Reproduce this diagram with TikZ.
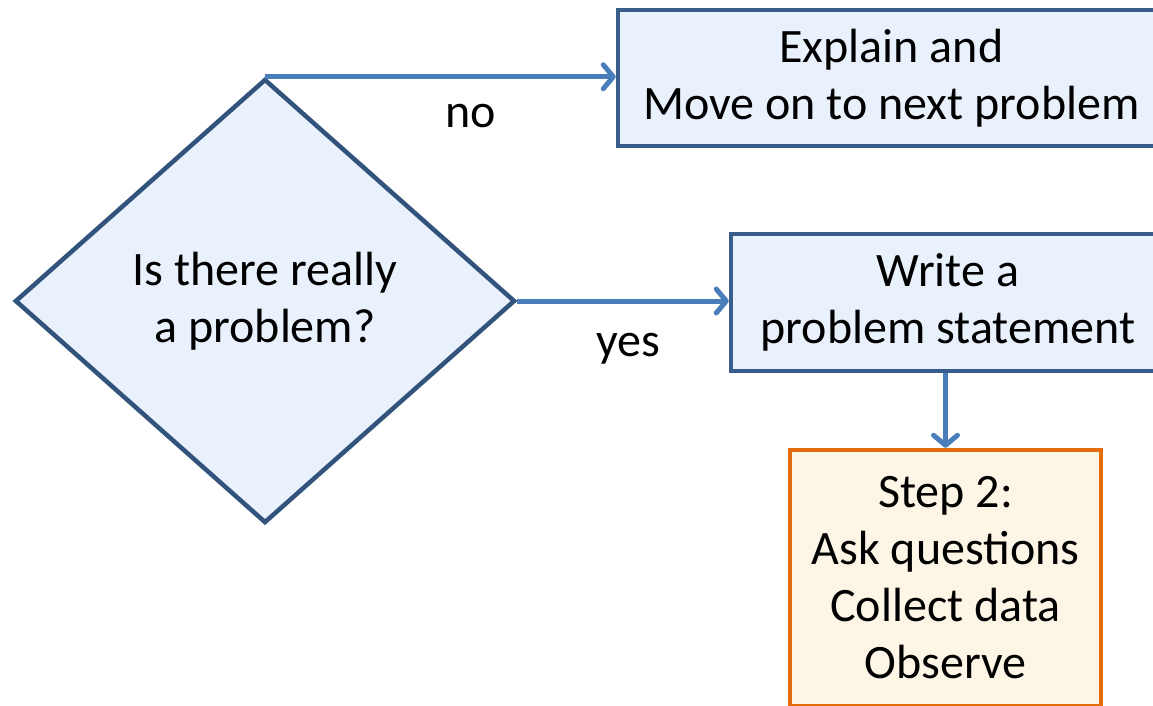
\documentclass[tikz,border=0pt]{standalone}
\usepackage{fontspec}
\setmainfont{Carlito}
\usepackage{tikz}
\usetikzlibrary{arrows.meta,shapes.geometric}
\definecolor{boxblue}{HTML}{E8F1FC}
\definecolor{lineblue}{HTML}{385D8A}
\definecolor{arrowblue}{HTML}{4A7EBB}
\definecolor{boxcream}{HTML}{FDF5E6}
\definecolor{lineorange}{HTML}{E46C0A}
\tikzstyle{decision}=[diamond, aspect=1.13, minimum width=500pt, minimum height=444pt, inner sep=0pt, fill=boxblue, draw=lineblue!90!black, line width=4.5pt, align=center]
\tikzstyle{stepblue}=[rectangle, fill=boxblue, draw=lineblue, line width=4.5pt, align=center, inner sep=0pt]
\tikzstyle{steporange}=[rectangle, fill=boxcream, draw=lineorange, line width=4.5pt, align=center, inner sep=0pt]
\tikzstyle{flow}=[draw=arrowblue, line width=5pt, -{Straight Barb[length=10pt, width=24pt, round]}]

\begin{document}
\begin{tikzpicture}[x=1pt, y=-1pt, font=\fontsize{48}{57}\selectfont]
	\useasboundingbox (0,0) rectangle (1153,705);
	\begin{scope}
		\node (q) at (265, 301)[decision] {Is there really\\a problem?};
		\node (e) at (891.5, 78)[stepblue, minimum width=547pt, minimum height=136pt] {Explain and\\Move on to next problem};
		\node (w) at (948, 302.5)[stepblue, minimum width=434pt, minimum height=137pt] {Write a\\problem statement};
		\node (s) at (945.5, 578)[steporange, minimum width=311pt, minimum height=256pt] {Step 2:\\Ask questions\\Collect data\\Observe};
		\node (no) at (471, 127)[anchor=base] {no};
		\node (yes) at (628, 356)[anchor=base] {yes};
	\end{scope}
	\begin{scope}
		\path [flow] (q.north) -- (q.north -| e.west);
		\path [flow] (q.east) -- (q.east -| w.west);
		\path [flow] (w.south -| s.north) -- (s.north);
	\end{scope}
\end{tikzpicture}
\end{document}
